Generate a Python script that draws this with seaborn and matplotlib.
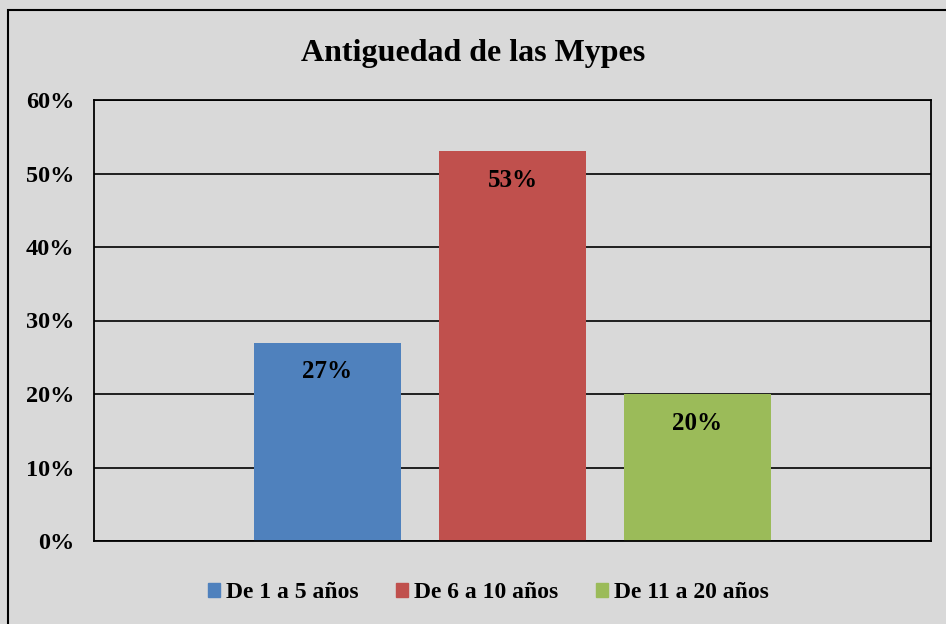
import matplotlib
matplotlib.use("Agg")
import matplotlib.pyplot as plt
import matplotlib.patches as mpatches
import numpy as np
import pandas as pd
import seaborn as sns

# Data
categorias = ["De 1 a 5 años", "De 6 a 10 años", "De 11 a 20 años"]
porcentajes = [27, 53, 20]
colores = ["#4F81BD", "#C0504D", "#9BBB59"]
yticks = [0, 10, 20, 30, 40, 50, 60]
titulo = "Antiguedad de las Mypes"

df = pd.DataFrame({"cat": categorias, "pct": porcentajes})

sns.set_style("white")
plt.rcParams["font.family"] = ["Liberation Serif", "DejaVu Serif"]
plt.rcParams["font.weight"] = "bold"
plt.rcParams["text.color"] = "black"
plt.rcParams["ytick.color"] = "black"

bg = "#D9D9D9"
fig = plt.figure(figsize=(9.46, 6.24), dpi=100, facecolor=bg)
ax = fig.add_axes([94 / 946, 1 - 541 / 624, (931 - 94) / 946, (541 - 100) / 624])
ax.set_facecolor(bg)

sns.barplot(data=df, x="cat", y="pct", hue="cat", palette=colores,
            order=categorias, hue_order=categorias, width=0.79,
            saturation=1, legend=False, linewidth=0, ax=ax)

ax.set_xlim(-1.262, 3.262)
ax.set_ylim(0, 60)
ax.set_yticks(yticks)
ax.set_yticklabels([f"{t}%" for t in yticks], fontsize=17.5, fontweight="bold",
                   color="black")
ax.set_xticks([])
ax.set_xlabel("")
ax.set_ylabel("")
ax.tick_params(axis="y", length=0, pad=14)
ax.yaxis.grid(True, color="black", linewidth=1.2)
ax.set_axisbelow(True)
for s in ax.spines.values():
    s.set_visible(True)
    s.set_color("black")
    s.set_linewidth(1.3)

# data labels
for i, v in enumerate(porcentajes):
    ax.annotate(f"{v}%", xy=(i, v), xytext=(0, -29), textcoords="offset pixels",
                ha="center", va="center", fontsize=18, fontweight="bold",
                color="black")

fig.text(0.5, 1 - 53 / 624, titulo, ha="center", va="center",
         fontsize=23, fontweight="bold", color="black")

handles = [mpatches.Patch(color=c, label=l) for c, l in zip(colores, categorias)]
fig.legend(handles=handles, loc="center", bbox_to_anchor=(488.5 / 946, 1 - 593 / 624),
           ncol=3, frameon=False, prop={"size": 17, "weight": "bold"},
           handlelength=0.5, handleheight=0.5, handletextpad=0.25,
           columnspacing=1.6)

# outer chart border
fig.patches.append(mpatches.Rectangle((8 / 946, -0.1), 1.2, 1 - 10 / 624 + 0.1,
                                      transform=fig.transFigure, fill=False,
                                      edgecolor="black", linewidth=1.5))

fig.savefig("out.png", dpi=100, facecolor=bg)
